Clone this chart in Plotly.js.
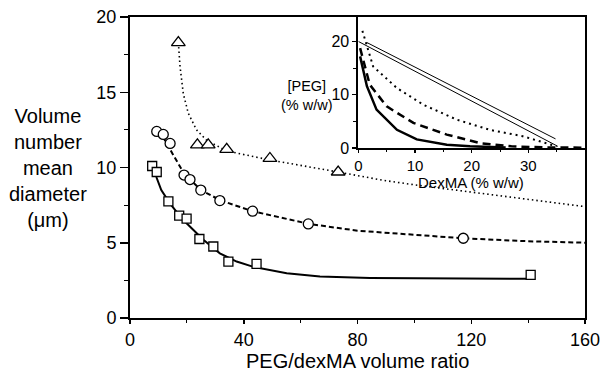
<!DOCTYPE html>
<html>
<head>
<meta charset="utf-8">
<script src="https://cdn.plot.ly/plotly-3.0.1.min.js"></script>
<style>html,body{margin:0;padding:0;background:#fff;}#chart{width:600px;height:373px;}</style>
</head>
<body>
<div id="chart"></div>
<script>
// ---- Main chart data (PEG/dexMA volume ratio vs diameter) ----
const squareX = [7.8, 9.4, 13.5, 17.3, 19.9, 24.4, 29.3, 34.6, 44.5, 140.9];
const squareY = [10.1, 9.7, 7.75, 6.8, 6.6, 5.25, 4.75, 3.75, 3.6, 2.87];
const circleX = [9.4, 11.7, 14.1, 19.0, 21.1, 24.9, 31.6, 43.1, 62.7, 117.2];
const circleY = [12.4, 12.2, 11.6, 9.5, 9.2, 8.5, 7.8, 7.1, 6.25, 5.3];
const triX = [17.0, 23.7, 27.5, 34.0, 49.2, 73.2];
const triY = [18.3, 11.5, 11.5, 11.2, 10.6, 9.7];

// fitted curves
const solidFitX = [8.5, 9.4, 11, 14.1, 17, 19.9, 25.8, 31.6, 37.5, 43.4, 55.1, 66.8, 84.4, 100, 120, 139.5];
const solidFitY = [10.1, 9.3, 8.5, 7.6, 6.9, 6.3, 5.2, 4.3, 3.75, 3.4, 2.97, 2.75, 2.66, 2.63, 2.62, 2.6];
const dashedFitX = [9.4, 12, 15, 19, 25, 32, 43, 55, 63, 80, 104, 117, 140, 161];
const dashedFitY = [12.4, 11.9, 10.9, 9.6, 8.5, 7.8, 7.1, 6.6, 6.25, 5.8, 5.5, 5.3, 5.1, 5.0];
const dottedFitX = [17.0, 17.6, 18.75, 20.5, 23.4, 27, 34, 49.2, 73.2, 89, 100, 120, 140, 160];
const dottedFitY = [18.3, 16.7, 14.9, 13.6, 12.5, 11.8, 11.1, 10.5, 9.7, 9.15, 8.85, 8.35, 7.88, 7.4];

// ---- Inset data (phase diagram) ----
const tieLowX = [0, 35.2];
const tieLowY = [20, 0.3];
const tieUpX = [1.5, 34.8];
const tieUpY = [19.8, 1.7];
const insetDotX = [0.7, 2.6, 6.8, 11.5, 17.4, 23.2, 29, 35];
const insetDotY = [22, 15.3, 11.25, 8.1, 5.3, 3.4, 2.2, 0.3];
const insetDashX = [0.3, 2, 5, 9.7, 15.6, 21.5, 27, 33, 40];
const insetDashY = [18.75, 11.9, 7.8, 4.7, 2.5, 0.9, 0.3, 0.1, 0.05];
const insetSolidX = [0.3, 1.5, 3.2, 6.8, 10.3, 15.6, 19.7, 26];
const insetSolidY = [17.2, 11.6, 7.2, 3.4, 1.6, 0.6, 0.3, 0.1];

// tick labels
const mainXTicks = [0, 40, 80, 120, 160];
const mainYTicks = [0, 5, 10, 15, 20];
const insetXTicks = [0, 10, 20, 30];
const insetYTicks = [0, 10, 20];

const FONT = "Liberation Sans, Arial, Helvetica, sans-serif";

const traces = [
  {x: solidFitX, y: solidFitY, mode: 'lines', line: {color: '#000', width: 2}},
  {x: dashedFitX, y: dashedFitY, mode: 'lines', line: {color: '#000', width: 2, dash: '5px,3px'}},
  {x: dottedFitX, y: dottedFitY, mode: 'lines', line: {color: '#000', width: 1.6, dash: '1.5px,3px'}},
  {x: squareX, y: squareY, mode: 'markers', marker: {symbol: 'square', size: 9, color: '#fff', line: {color: '#000', width: 1.3}}},
  {x: circleX, y: circleY, mode: 'markers', marker: {symbol: 'circle', size: 10, color: '#fff', line: {color: '#000', width: 1.3}}},
  {x: triX, y: triY, mode: 'markers', marker: {symbol: 'triangle-up', size: 12, color: '#fff', line: {color: '#000', width: 1.3}}},
  // inset
  {x: tieLowX, y: tieLowY, xaxis: 'x2', yaxis: 'y2', mode: 'lines', line: {color: '#000', width: 1}},
  {x: tieUpX, y: tieUpY, xaxis: 'x2', yaxis: 'y2', mode: 'lines', line: {color: '#000', width: 1}},
  {x: insetDotX, y: insetDotY, xaxis: 'x2', yaxis: 'y2', mode: 'lines', line: {color: '#000', width: 2, dash: '2px,4px'}},
  {x: insetDashX, y: insetDashY, xaxis: 'x2', yaxis: 'y2', mode: 'lines', line: {color: '#000', width: 2.5, dash: '8px,5px'}},
  {x: insetSolidX, y: insetSolidY, xaxis: 'x2', yaxis: 'y2', mode: 'lines', line: {color: '#000', width: 2.5}}
];

const layout = {
  width: 600, height: 373,
  margin: {l: 130, r: 15, t: 17, b: 55},
  paper_bgcolor: '#fff', plot_bgcolor: '#fff',
  showlegend: false,
  font: {family: FONT, color: '#000'},
  xaxis: {
    range: [0, 160], tickmode: 'array', tickvals: mainXTicks, ticktext: mainXTicks.map(String),
    ticks: 'outside', ticklen: 4, tickwidth: 1.5, tickcolor: '#000',
    minor: {dtick: 20, tick0: 0, ticks: 'outside', ticklen: 3, tickwidth: 1.2, tickcolor: '#000'},
    showline: true, linecolor: '#000', linewidth: 2, mirror: true, ticklabeloverflow: 'allow',
    showgrid: false, zeroline: false, tickfont: {size: 18}
  },
  yaxis: {
    range: [0, 20], tickmode: 'array', tickvals: mainYTicks, ticktext: mainYTicks.map(String),
    ticks: 'outside', ticklen: 8, tickwidth: 1.5, tickcolor: '#000',
    minor: {dtick: 2.5, tick0: 0, ticks: 'outside', ticklen: 4, tickwidth: 1.2, tickcolor: '#000'},
    showline: true, linecolor: '#000', linewidth: 2, mirror: true,
    showgrid: false, zeroline: false, tickfont: {size: 18}
  },
  xaxis2: {
    domain: [0.502, 1], anchor: 'y2', range: [0, 40], tickmode: 'array', tickvals: insetXTicks, ticktext: insetXTicks.map(String),
    ticks: 'outside', ticklen: 3, tickwidth: 1.3, tickcolor: '#000',
    minor: {dtick: 5, tick0: 0, ticks: 'outside', ticklen: 2, tickwidth: 1, tickcolor: '#000'},
    showline: true, linecolor: '#000', linewidth: 2, showgrid: false, zeroline: false,
    tickfont: {size: 15}
  },
  yaxis2: {
    domain: [0.565, 1], anchor: 'x2', range: [0, 24.6], tickmode: 'array', tickvals: insetYTicks, ticktext: insetYTicks.map(String),
    ticks: 'outside', ticklen: 4, tickwidth: 1.3, tickcolor: '#000',
    minor: {dtick: 5, tick0: 0, ticks: 'outside', ticklen: 3, tickwidth: 1, tickcolor: '#000'},
    showline: true, linecolor: '#000', linewidth: 2, showgrid: false, zeroline: false,
    tickfont: {size: 16}
  },
  annotations: [
    {xref: 'paper', yref: 'paper', x: -0.18, y: 0.5, xanchor: 'center', yanchor: 'middle',
     text: 'Volume<br>number<br>mean<br>diameter<br>(μm)', showarrow: false, align: 'center',
     font: {size: 20, family: FONT, color: '#000'}},
    {xref: 'paper', yref: 'paper', x: 0.5, y: -0.143, xanchor: 'center', yanchor: 'middle',
     text: 'PEG/dexMA volume ratio', showarrow: false,
     font: {size: 20, family: FONT, color: '#000'}},
    {xref: 'paper', yref: 'paper', x: 0.7505, y: 0.45, xanchor: 'center', yanchor: 'middle',
     text: 'DexMA (% w/w)', showarrow: false,
     font: {size: 15, family: FONT, color: '#000'}},
    {xref: 'paper', yref: 'paper', x: 0.39, y: 0.74, xanchor: 'center', yanchor: 'middle',
     text: '[PEG]<br>(% w/w)', showarrow: false, align: 'center',
     font: {size: 14.5, family: FONT, color: '#000'}}
  ]
};

Plotly.newPlot('chart', traces, layout, {staticPlot: true, displayModeBar: false});
</script>
</body>
</html>
